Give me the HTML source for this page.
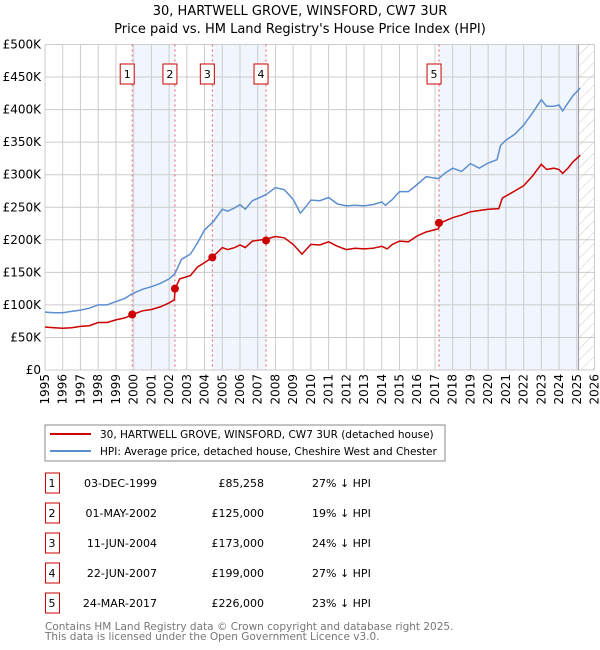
<!DOCTYPE html>
<html><head><meta charset="utf-8">
<style>
body{margin:0;background:#fff;}
svg{display:block;font-family:"DejaVu Sans","Liberation Sans",sans-serif;}
</style></head>
<body>
<svg id="c" width="600" height="650" viewBox="0 0 600 650">
<defs>
<pattern id="hatch" width="8" height="8" patternUnits="userSpaceOnUse" patternTransform="rotate(45)">
<line x1="0" y1="0" x2="0" y2="8" stroke="#ccc" stroke-width="1"/>
</pattern>
</defs>
<text x="300" y="15" text-anchor="middle" font-size="13">30, HARTWELL GROVE, WINSFORD, CW7 3UR</text>
<text x="300" y="33" text-anchor="middle" font-size="13">Price paid vs. HM Land Registry's House Price Index (HPI)</text>
<g id="plot"></g>
<g>
<rect x="45" y="425" width="400" height="36" fill="#fff" stroke="#888"/>
<line x1="50" y1="434" x2="91" y2="434" stroke="#cc0000" stroke-width="2"/>
<text x="100" y="438" font-size="10.5">30, HARTWELL GROVE, WINSFORD, CW7 3UR (detached house)</text>
<line x1="50" y1="451" x2="91" y2="451" stroke="#5b8fd0" stroke-width="2"/>
<text x="100" y="455" font-size="10.5">HPI: Average price, detached house, Cheshire West and Chester</text>
</g>
<g id="table" font-size="11"></g>
<text x="45" y="630" font-size="10.5" fill="#777">Contains HM Land Registry data © Crown copyright and database right 2025.</text>
<text x="45" y="640" font-size="10.5" fill="#777">This data is licensed under the Open Government Licence v3.0.</text>
</svg>
<script>
const hpiYears=[1995,1995.5,1996,1996.5,1997,1997.5,1998,1998.5,1999,1999.5,1999.92,2000.5,2001,2001.5,2002,2002.33,2002.7,2003.2,2003.6,2004,2004.5,2005,2005.3,2005.7,2006,2006.3,2006.7,2007.2,2007.5,2008,2008.5,2009,2009.4,2009.6,2010,2010.5,2011,2011.5,2012,2012.5,2013,2013.5,2014,2014.2,2014.6,2015,2015.5,2016,2016.5,2017.2,2017.6,2018,2018.5,2019,2019.5,2020,2020.5,2020.7,2021,2021.5,2022,2022.5,2023,2023.3,2023.7,2024,2024.2,2024.5,2024.8,2025.2];
const hpiValues=[89,88,88,90,92,95,100,100,105,110,117,124,128,133,140,148,170,178,195,215,228,247,244,249,254,247,260,266,270,280,277,262,241,247,261,260,265,255,252,253,252,254,258,253,262,274,274,285,297,294,303,310,305,317,310,318,323,345,353,362,376,395,415,405,405,407,398,410,422,433];
const propYears=[1995,1995.5,1996,1996.5,1997,1997.5,1998,1998.5,1999,1999.5,1999.92,2000.5,2001,2001.5,2002,2002.3,2002.34,2002.6,2003.2,2003.6,2004,2004.44,2005,2005.3,2005.7,2006,2006.3,2006.7,2007.47,2008,2008.5,2009,2009.5,2010,2010.5,2011,2011.5,2012,2012.5,2013,2013.5,2014,2014.3,2014.6,2015,2015.5,2016,2016.5,2017.2,2017.3,2018,2018.5,2019,2019.5,2020,2020.6,2020.8,2021.5,2022,2022.5,2023,2023.3,2023.7,2024,2024.2,2024.5,2024.8,2025.2];
const propValues=[66,65,64,65,67,68,73,73,77,80,85,91,93,97,103,108,125,140,145,158,165,173,188,185,188,192,188,198,201,205,203,193,178,193,192,197,190,185,187,186,187,190,186,193,198,197,206,212,217,226,234,238,243,245,247,248,264,275,283,298,316,308,310,308,302,310,320,330];
const saleYears=[1999.92,2002.33,2004.44,2007.47,2017.23];
const saleValues=[85.258,125,173,199,226];
const saleLabels=["1","2","3","4","5"];
const saleDates=["03-DEC-1999","01-MAY-2002","11-JUN-2004","22-JUN-2007","24-MAR-2017"];
const salePrices=["£85,258","£125,000","£173,000","£199,000","£226,000"];
const saleHpi=["27% ↓ HPI","19% ↓ HPI","24% ↓ HPI","27% ↓ HPI","23% ↓ HPI"];
const yTicks=[0,50,100,150,200,250,300,350,400,450,500];
const yTickLabels=["£0","£50K","£100K","£150K","£200K","£250K","£300K","£350K","£400K","£450K","£500K"];
const xTicks=[];for(let y=1995;y<=2026;y++)xTicks.push(y);
const dataEnd=2025.1;
const NS="http://www.w3.org/2000/svg";
const X0=45,X1=594.5,Y0=370,Y1=44.5,YR0=1995,YR1=2026;
const x=v=>X0+(v-YR0)/(YR1-YR0)*(X1-X0);
const y=v=>Y0-v/500*(Y0-Y1);
const plot=document.getElementById('plot');
function mk(tag,attrs,parent){const e=document.createElementNS(NS,tag);for(const k in attrs)e.setAttribute(k,attrs[k]);(parent||plot).appendChild(e);return e;}
for(let i=0;i<saleYears.length;i+=2){
 const end=i+1<saleYears.length?saleYears[i+1]:dataEnd;
 const r=mk('rect',{x:x(saleYears[i]),y:Y1,width:x(end)-x(saleYears[i]),height:Y0-Y1,fill:'#eef3fc',opacity:0.8});
 
 
}
const h=mk('rect',{x:x(dataEnd),y:Y1,width:X1-x(dataEnd),height:Y0-Y1,fill:'url(#hatch)'});


yTicks.forEach((t,i)=>{
 const l=mk('line',{x1:X0,x2:X1,y1:y(t),y2:y(t),stroke:'#ccc','stroke-width':1});
 
 
 const tx=mk('text',{x:X0-4,y:y(t)+4,'text-anchor':'end','font-size':12});
 tx.textContent=yTickLabels[i];
 
 
});
xTicks.forEach(t=>{
 const l=mk('line',{x1:x(t),x2:x(t),y1:Y1,y2:Y0,stroke:'#ccc','stroke-width':1});
 
 
 const tx=mk('text',{transform:`translate(${x(t)+4},${Y0+4}) rotate(-90)`,'text-anchor':'end','font-size':12});
 tx.textContent=t;
 
 
});
const dl=mk('line',{x1:x(dataEnd),x2:x(dataEnd),y1:Y1,y2:Y0,stroke:'#999','stroke-width':1});


saleYears.forEach((s,i)=>{
 const l=mk('line',{x1:x(s),x2:x(s),y1:Y1,y2:Y0,stroke:'#e06060','stroke-width':1,'stroke-dasharray':'2,3'});
 
 
});
function path(xs,vs,color,name){
 const d=xs.map((t,i)=>(i?'L':'M')+x(t).toFixed(1)+','+y(vs[i]).toFixed(1)).join('');
 const p=mk('path',{d:d,fill:'none',stroke:color,'stroke-width':1.5});
 
 
}
path(hpiYears,hpiValues,'#5b8fd0','hpi-line');
path(propYears,propValues,'#cc0000','property-price-line');
saleYears.forEach((s,i)=>{
 const c=mk('circle',{cx:x(s),cy:y(saleValues[i]),r:4,fill:'#cc0000'});
 
 
 const g=mk('g',{});
 
 
 mk('rect',{x:x(s)-12,y:64,width:14,height:20,fill:'#fff',stroke:'#cc0000','stroke-width':1},g);
 const t=mk('text',{x:x(s)-5,y:78,'text-anchor':'middle','font-size':11},g);
 t.textContent=saleLabels[i];
});
const tbl=document.getElementById('table');
saleLabels.forEach((lab,i)=>{
 const cy=483+i*30;
 const g=document.createElementNS(NS,'g');
 
 
 tbl.appendChild(g);
 mk('rect',{x:45.5,y:cy-10,width:14,height:20,fill:'#fff',stroke:'#cc0000'},g);
 const cells=[[52,'middle',lab],[157,'end',saleDates[i]],[264,'end',salePrices[i]],[312,'start',saleHpi[i]]];
 cells.forEach(c=>{const t=mk('text',{x:c[0],y:cy+4,'text-anchor':c[1]},g);t.textContent=c[2];});
});
</script>
</body></html>
